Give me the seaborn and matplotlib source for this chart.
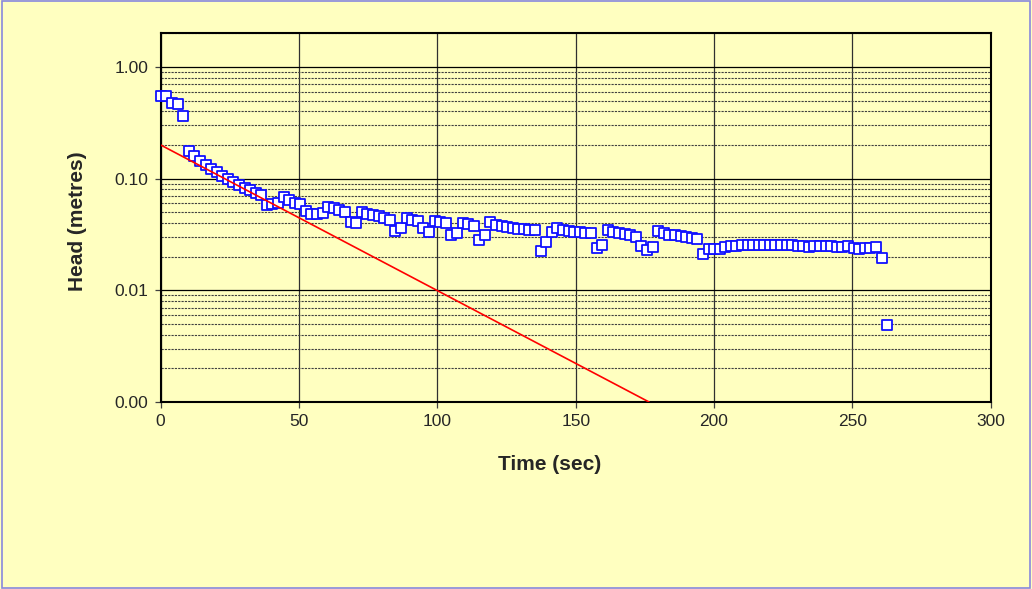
# Head vs. time (semi-log) recreation
import matplotlib
matplotlib.use("Agg")
import matplotlib.pyplot as plt
import matplotlib.ticker as mticker
from matplotlib.patches import Rectangle
import seaborn as sns
import pandas as pd

sns.set_style("white")
plt.rcParams["font.family"] = ["Liberation Sans", "DejaVu Sans"]

BG = "#FFFFC0"

time_sec = [0.0, 2.0, 4.0, 6.1, 8.1, 10.1, 12.1, 14.1, 16.2, 18.2, 20.2, 22.2, 24.2, 26.3,
            28.3, 30.3, 32.3, 34.3, 36.4, 38.4, 40.4, 42.4, 44.4, 46.5, 48.5, 50.5, 52.5,
            54.5, 56.6, 58.6, 60.6, 62.6, 64.6, 66.7, 68.7, 70.7, 72.7, 74.7, 76.8, 78.8,
            80.8, 82.8, 84.8, 86.9, 88.9, 90.9, 92.9, 94.9, 97.0, 99.0, 101.0, 103.0, 105.0,
            107.1, 109.1, 111.1, 113.1, 115.1, 117.2, 119.2, 121.2, 123.2, 125.2, 127.3,
            129.3, 131.3, 133.3, 135.3, 137.4, 139.4, 141.4, 143.4, 145.4, 147.5, 149.5,
            151.5, 153.5, 155.5, 157.6, 159.6, 161.6, 163.6, 165.6, 167.7, 169.7, 171.7,
            173.7, 175.7, 177.8, 179.8, 181.8, 183.8, 185.8, 187.9, 189.9, 191.9, 193.9,
            195.9, 198.0, 200.0, 202.0, 204.0, 206.0, 208.1, 210.1, 212.1, 214.1, 216.1,
            218.2, 220.2, 222.2, 224.2, 226.2, 228.3, 230.3, 232.3, 234.3, 236.3, 238.4,
            240.4, 242.4, 244.4, 246.4, 248.5, 250.5, 252.5, 254.5, 256.5, 258.6, 260.6,
            262.6]

head_m = [0.55, 0.55, 0.48, 0.47, 0.36, 0.176, 0.16, 0.145, 0.133, 0.123, 0.114, 0.106,
          0.099, 0.093, 0.088, 0.083, 0.079, 0.075, 0.072, 0.058, 0.059, 0.060, 0.068,
          0.064, 0.061, 0.059, 0.051, 0.0485, 0.0485, 0.049, 0.056, 0.054, 0.052, 0.050,
          0.041, 0.040, 0.050, 0.048, 0.047, 0.046, 0.0446, 0.043, 0.0343, 0.036, 0.0446,
          0.043, 0.042, 0.036, 0.033, 0.042, 0.041, 0.040, 0.031, 0.0325, 0.040, 0.0394,
          0.038, 0.028, 0.031, 0.0405, 0.0386, 0.0375, 0.0367, 0.036, 0.0357, 0.0351,
          0.035, 0.035, 0.0227, 0.027, 0.033, 0.036, 0.035, 0.0343, 0.033, 0.033, 0.0329,
          0.0325, 0.024, 0.0256, 0.0345, 0.033, 0.0323, 0.0318, 0.0315, 0.0298, 0.025,
          0.023, 0.0243, 0.0338, 0.0329, 0.0315, 0.031, 0.0304, 0.0298, 0.0295, 0.029,
          0.0212, 0.0236, 0.0233, 0.0233, 0.0245, 0.0248, 0.025, 0.0252, 0.0253, 0.0253,
          0.0253, 0.0253, 0.0253, 0.0253, 0.0252, 0.0252, 0.0257, 0.0249, 0.0251, 0.0245,
          0.025, 0.025, 0.0249, 0.0249, 0.0245, 0.0242, 0.0249, 0.0238, 0.0236, 0.0238,
          0.0237, 0.0243, 0.0196, 0.0049]

# Ausgleichsgerade (Endpunkte)
fit_t = [0.0, 176.5]
fit_h = [0.2, 0.001]

x_ticks = [0, 50, 100, 150, 200, 250, 300]
y_ticks = [0.001, 0.01, 0.1, 1.0]

data = pd.DataFrame({"t": time_sec, "h": head_m})
fit = pd.DataFrame({"t": fit_t, "h": fit_h})

fig = plt.figure(figsize=(10.32, 5.89), dpi=100, facecolor=BG)
ax = fig.add_axes([0.1557, 0.3175, 0.8043, 0.626])
ax.set_facecolor(BG)

sns.scatterplot(data=data, x="t", y="h", ax=ax, marker="s", s=62,
                facecolor="white", edgecolor="#1010FF", linewidth=1.3, zorder=3,
                clip_on=False)
sns.lineplot(data=fit, x="t", y="h", ax=ax, color="#FF0000", linewidth=1.2, zorder=4)

ax.set_yscale("log")
ax.set_xlim(0, 300)
ax.set_ylim(0.001, 2.0)
ax.set_xticks(x_ticks)
ax.set_yticks(y_ticks)
ax.yaxis.set_major_formatter(mticker.FuncFormatter(lambda v, p: f"{v:.2f}"))
ax.yaxis.set_minor_locator(mticker.LogLocator(base=10, subs=range(2, 10)))
ax.yaxis.set_minor_formatter(mticker.NullFormatter())

ax.grid(True, which="major", axis="y", color="black", linewidth=0.9, zorder=1)
ax.grid(True, which="minor", axis="y", color="#404040", linewidth=0.8,
        linestyle=(0, (2, 1)), zorder=1)
ax.grid(True, which="major", axis="x", color="#303030", linewidth=0.9, zorder=1)
ax.set_axisbelow(True)

for s in ax.spines.values():
    s.set_color("black")
    s.set_linewidth(1.5)

ax.tick_params(axis="both", which="major", direction="out", length=4, width=0.9,
               color="#404040", labelsize=12.5, pad=5, left=True, bottom=True)
ax.tick_params(axis="y", which="minor", length=0)

ax.set_xlabel("Time (sec)", fontsize=15, fontweight="bold")
ax.set_ylabel("Head (metres)", fontsize=15, fontweight="bold")
ax.xaxis.set_label_coords(0.468, -0.143)
ax.yaxis.set_label_coords(-0.089, 0.49)

fig.patches.append(Rectangle((0.0015, 0.002), 0.997, 0.996, transform=fig.transFigure,
                             fill=False, edgecolor="#8888DD", linewidth=1.2))

fig.savefig("out.png", dpi=100, facecolor=BG)
